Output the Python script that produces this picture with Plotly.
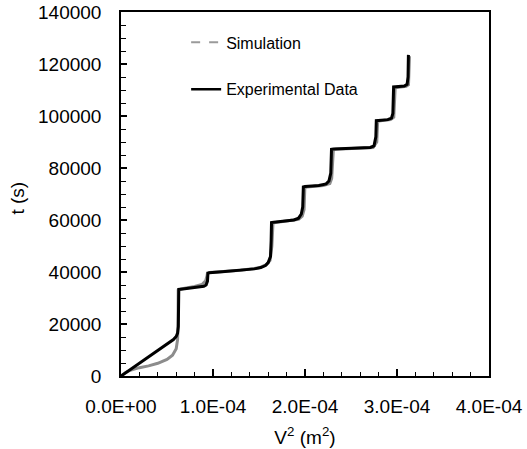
import plotly.graph_objects as go

# Experimental data (black): V^2 (m^2) and t (s)
exp_v2 = [0.0, 0.10e-4, 0.20e-4, 0.30e-4, 0.40e-4, 0.50e-4, 0.57e-4, 0.60e-4, 0.615e-4, 0.623e-4,
          0.626e-4, 0.628e-4, 0.65e-4, 0.75e-4, 0.85e-4, 0.90e-4, 0.925e-4, 0.94e-4, 0.945e-4, 0.96e-4,
          1.10e-4, 1.30e-4, 1.45e-4, 1.52e-4, 1.57e-4, 1.60e-4, 1.625e-4, 1.632e-4, 1.636e-4, 1.66e-4,
          1.80e-4, 1.88e-4, 1.93e-4, 1.96e-4, 1.975e-4, 1.982e-4, 2.00e-4, 2.15e-4, 2.23e-4, 2.26e-4,
          2.28e-4, 2.288e-4, 2.31e-4, 2.55e-4, 2.71e-4, 2.75e-4, 2.77e-4, 2.775e-4, 2.80e-4, 2.90e-4,
          2.94e-4, 2.955e-4, 2.963e-4, 2.99e-4, 3.08e-4, 3.11e-4, 3.12e-4, 3.124e-4]
exp_t = [0, 2450, 4900, 7350, 9800, 12200, 14000, 15200, 16500, 19000,
         25000, 33300, 33400, 33800, 34200, 34500, 35000, 36500, 39500, 39700,
         40100, 40600, 41200, 41700, 42500, 43600, 46000, 52000, 59000, 59100,
         59600, 60000, 60700, 62300, 65000, 72700, 72900, 73300, 73900, 75000,
         78000, 87200, 87300, 87500, 87900, 88500, 92000, 98200, 98300, 98600,
         99200, 101000, 111200, 111300, 111500, 112200, 115000, 123500]

# Simulation (grey)
sim_v2 = [0.0, 0.05e-4, 0.10e-4, 0.20e-4, 0.30e-4, 0.40e-4, 0.50e-4, 0.56e-4, 0.60e-4, 0.615e-4,
          0.620e-4, 0.622e-4, 0.65e-4, 0.80e-4, 0.88e-4, 0.92e-4, 0.935e-4, 0.94e-4, 0.96e-4,
          1.30e-4, 1.50e-4, 1.58e-4, 1.62e-4, 1.64e-4, 1.648e-4, 1.652e-4, 1.68e-4, 1.85e-4,
          1.93e-4, 1.97e-4, 1.99e-4, 1.998e-4, 2.02e-4, 2.20e-4, 2.27e-4, 2.29e-4, 2.303e-4, 2.308e-4,
          2.33e-4, 2.60e-4, 2.74e-4, 2.78e-4, 2.787e-4, 2.79e-4, 2.82e-4, 2.93e-4, 2.965e-4, 2.975e-4,
          2.98e-4, 3.00e-4, 3.10e-4, 3.125e-4, 3.133e-4, 3.136e-4]
sim_t = [0, 1300, 2200, 3200, 3900, 4900, 6400, 8000, 10500, 14000,
         20000, 33000, 33500, 34400, 35200, 36600, 38500, 39600, 39800,
         40700, 41600, 42800, 44500, 50000, 56000, 58800, 59000, 59700,
         60300, 61500, 64000, 72500, 72700, 73300, 74000, 76000, 84000, 87000,
         87200, 87500, 87900, 90000, 96000, 98000, 98200, 98600, 99500, 106000,
         110800, 111000, 111400, 112000, 118000, 123000]

x_ticks = [0, 1e-4, 2e-4, 3e-4, 4e-4]
x_tick_labels = ["0.0E+00", "1.0E-04", "2.0E-04", "3.0E-04", "4.0E-04"]
y_ticks = [0, 20000, 40000, 60000, 80000, 100000, 120000, 140000]
y_tick_labels = ["0", "20000", "40000", "60000", "80000", "100000", "120000", "140000"]

FONT = "Liberation Sans, Arial, sans-serif"

fig = go.Figure()
fig.add_trace(go.Scatter(x=sim_v2, y=sim_t, mode="lines", name="Simulation",
                         line=dict(color="#8c8c8c", width=3), showlegend=False))
fig.add_trace(go.Scatter(x=exp_v2, y=exp_t, mode="lines", name="Experimental Data",
                         line=dict(color="black", width=3), showlegend=False))
# legend entries
fig.add_trace(go.Scatter(x=[None], y=[None], mode="lines", name="Simulation",
                         line=dict(color="#9a9a9a", width=2, dash="dash"), legendgroup="a"))
fig.add_trace(go.Scatter(x=[None], y=[None], mode="lines", name="Experimental Data",
                         line=dict(color="black", width=2.5), legendgroup="b"))

fig.update_layout(
    width=527, height=449,
    margin=dict(l=121, r=38, t=12, b=73, autoexpand=False),
    paper_bgcolor="white", plot_bgcolor="white",
    font=dict(family=FONT, size=19, color="black"),
    legend=dict(x=0.177, y=0.963, xanchor="left", yanchor="top",
                bgcolor="rgba(0,0,0,0)", font=dict(size=16),
                tracegroupgap=23, traceorder="grouped"),
    xaxis=dict(range=[0, 4e-4], tickvals=x_ticks, ticktext=x_tick_labels,
               ticks="inside", ticklen=7, tickwidth=1.5, tickcolor="black",
               minor=dict(dtick=2e-5, ticks="inside", ticklen=4, tickwidth=1.2, tickcolor="black"),
               showline=True, linecolor="black", linewidth=1.5, mirror=True,
               showgrid=False, zeroline=False, ticklabelstandoff=12, automargin=False,
               title=dict(text="V<sup>2</sup> (m<sup>2</sup>)", font=dict(size=19))),
    yaxis=dict(range=[0, 140000], tickvals=y_ticks, ticktext=y_tick_labels,
               ticks="inside", ticklen=6, tickwidth=1.5, tickcolor="black",
               minor=dict(dtick=5000, ticks="inside", ticklen=5, tickwidth=1.2, tickcolor="black"),
               showline=True, linecolor="black", linewidth=1.5, mirror=True,
               showgrid=False, zeroline=False, ticklabelstandoff=14, automargin=False),
    annotations=[dict(text="t (s)", xref="paper", yref="paper", x=-0.28, y=0.49,
                      xanchor="center", yanchor="middle", textangle=-90, showarrow=False,
                      font=dict(size=19))],
)

fig.write_html("out.html")
